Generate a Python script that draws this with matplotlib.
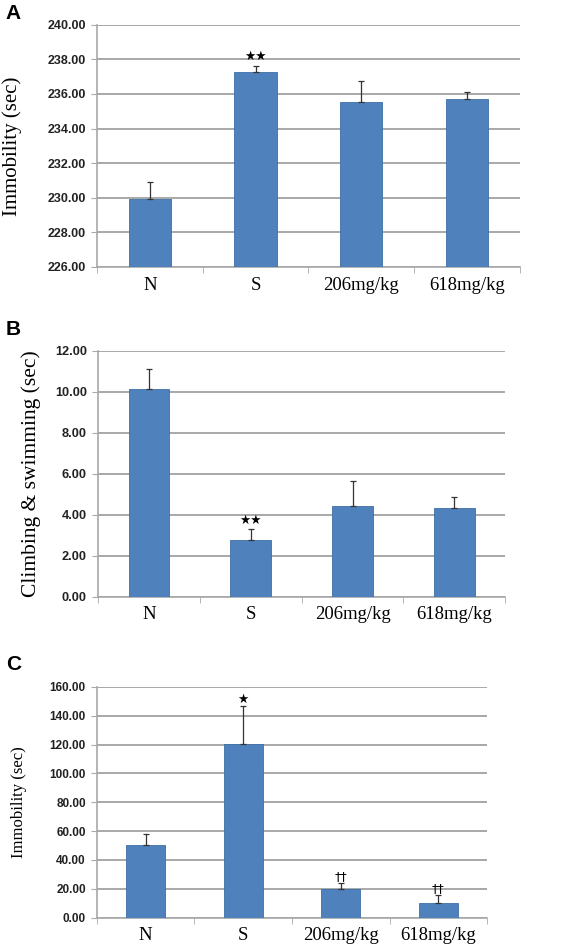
import matplotlib
matplotlib.use("Agg")
import matplotlib.pyplot as plt
from matplotlib.ticker import FixedLocator

groups = ["N", "S", "206mg/kg", "618mg/kg"]

# panel A: immobility (sec)
immob_a = [229.9, 237.24, 235.54, 235.68]
immob_a_err = [1.0, 0.4, 1.22, 0.42]
marks_a = ["", "★★", "", ""]

# panel B: climbing & swimming (sec)
climb_b = [10.11, 2.76, 4.44, 4.31]
climb_b_err = [1.0, 0.52, 1.2, 0.54]
marks_b = ["", "★★", "", ""]

# panel C: immobility (sec)
immob_c = [50.6, 120.4, 20.0, 10.4]
immob_c_err = [7.6, 26.2, 4.2, 5.5]
marks_c = ["", "★", "††", "††"]

bar_color = "#4F81BD"
grid_color = "#A8A8A8"

fig = plt.figure(figsize=(5.67, 9.5), dpi=100)


def panel(rect, vals, errs, marks, ylim, ystep, ylabel, letter, letter_y,
          ylab_size, ytick_size, ylab_x, mark_size, mark_pad):
    ax = fig.add_axes(rect)
    x = list(range(len(groups)))
    ax.bar(x, [v - ylim[0] for v in vals], bottom=ylim[0], width=0.4,
           color=bar_color, edgecolor="#3F6FA6", linewidth=0.6, zorder=3)
    ax.errorbar(x, vals, yerr=[[0] * len(errs), errs], fmt="none",
                ecolor="#333333", elinewidth=0.9, capsize=2.5, capthick=0.9,
                zorder=4)
    ax.set_xlim(-0.5, len(groups) - 0.5)
    ax.set_ylim(*ylim)
    ticks = []
    t = ylim[0]
    while t <= ylim[1] + 1e-9:
        ticks.append(t)
        t += ystep
    ax.set_yticks(ticks)
    ax.set_yticklabels(["%.2f" % v for v in ticks], fontsize=ytick_size,
                       fontweight="bold", family="Liberation Sans",
                       color="#222222")
    ax.set_xticks(x)
    ax.set_xticklabels(groups, fontsize=13.5, family="Liberation Serif")
    ax.xaxis.set_minor_locator(FixedLocator([i - 0.5 for i in range(len(groups) + 1)]))
    ax.tick_params(axis="x", which="major", length=0, pad=7)
    ax.tick_params(axis="x", which="minor", length=4, color=grid_color)
    ax.tick_params(axis="y", length=4, color=grid_color, pad=4)
    ax.yaxis.grid(True, color=grid_color, linewidth=1.4, zorder=0)
    ax.set_axisbelow(True)
    for s in ["top", "right"]:
        ax.spines[s].set_visible(False)
    for s in ["left", "bottom"]:
        ax.spines[s].set_color(grid_color)
        ax.spines[s].set_linewidth(1.2)
    ax.set_ylabel(ylabel, fontsize=ylab_size, family="Liberation Serif")
    ax.yaxis.set_label_coords(ylab_x, 0.5)
    span = ylim[1] - ylim[0]
    for xi, v, e, m in zip(x, vals, errs, marks):
        if m:
            ax.text(xi, v + e + mark_pad * span, m, ha="center", va="bottom",
                    fontsize=mark_size, family="DejaVu Sans")
    fig.text(0.01, letter_y, letter, fontsize=15, fontweight="bold",
             family="Liberation Sans", va="center")
    return ax


panel([0.171, 0.719, 0.746, 0.255], immob_a, immob_a_err, marks_a,
      (226, 240), 2, "Immobility (sec)", "A", 0.986, 15, 9, -0.177, 9, 0.01)
panel([0.173, 0.372, 0.718, 0.259], climb_b, climb_b_err, marks_b,
      (0, 12), 2, "Climbing & swimming (sec)", "B", 0.653, 15.5, 9.2, -0.14, 9, 0.01)
panel([0.171, 0.034, 0.688, 0.243], immob_c, immob_c_err, marks_c,
      (0, 160), 20, "Immobility (sec)", "C", 0.300, 12, 8.5, -0.18, 9, 0.0)

fig.savefig("out.png", dpi=100)
